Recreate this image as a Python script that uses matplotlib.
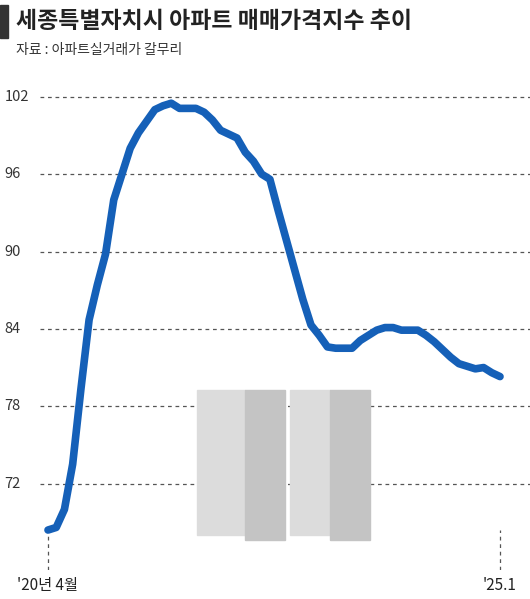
import matplotlib.pyplot as plt
from matplotlib.patches import Rectangle

plt.rcParams['font.family'] = ['Noto Sans CJK KR', 'DejaVu Sans']

# 월별 매매가격지수 ('20년 4월 ~ '25.1), 그림에서 읽은 값
values = [68.4, 68.6, 70.0, 73.5, 79.3, 84.7, 87.4, 89.8, 94.0, 96.0, 98.0, 99.2,
          100.1, 101.0, 101.3, 101.5, 101.1, 101.1, 101.1, 100.8, 100.2, 99.4, 99.1,
          98.8, 97.7, 97.0, 96.0, 95.6, 93.2, 90.9, 88.6, 86.3, 84.3, 83.5, 82.6,
          82.5, 82.5, 82.5, 83.1, 83.5, 83.9, 84.1, 84.1, 83.9, 83.9, 83.9, 83.5,
          83.0, 82.4, 81.8, 81.3, 81.1, 80.9, 81.0, 80.6, 80.3]
yticks = [72, 78, 84, 90, 96, 102]
x_labels = ["'20년 4월", "'25.1"]

n = len(values)
W, H = 530, 599
fig = plt.figure(figsize=(W / 100, H / 100), dpi=100)
ax = fig.add_axes([40 / W, 1 - 570 / H, 490 / W, 490 / H])

x0 = -8 / 8.22
x1 = (n - 1) + 30 / 8.22
ax.set_xlim(x0, x1)
ax.set_ylim(65.3, 103.3)

for t in yticks:
    ax.axhline(t, color='#555555', lw=0.9, ls=(0, (3, 3)), zorder=1)
    ax.text(-0.072, t, str(t), transform=ax.get_yaxis_transform(),
            ha='left', va='center', fontsize=10.5, color='#333333')

# 간단한 아파트 그림
for bx in [(197, 245), (290, 330)]:
    fig.patches.append(Rectangle((bx[0] / W, 1 - 535 / H), (bx[1] - bx[0]) / W, 145 / H,
                                 transform=fig.transFigure, color='#dcdcdc', zorder=0))
    fig.patches.append(Rectangle((bx[1] / W, 1 - 540 / H), 40 / W, 150 / H,
                                 transform=fig.transFigure, color='#c4c4c4', zorder=0))

ax.plot(range(n), values, color='#1560b8', lw=5.5, solid_capstyle='round', zorder=3)

for xi in [0, n - 1]:
    ax.axvline(xi, ymin=0, ymax=(68.4 - 65.3) / 38, color='#555555', lw=0.9,
               ls=(0, (3, 3)))
ax.text(0, -0.015, x_labels[0], transform=ax.get_xaxis_transform(),
        ha='center', va='top', fontsize=11, color='#222222')
ax.text(n - 1, -0.015, x_labels[1], transform=ax.get_xaxis_transform(),
        ha='center', va='top', fontsize=11, color='#222222')

for s in ax.spines.values():
    s.set_visible(False)
ax.set_xticks([])
ax.set_yticks([])

fig.patches.append(Rectangle((0, 1 - 38 / H), 8 / W, 33 / H,
                             transform=fig.transFigure, color='#333333'))
fig.text(16 / W, 1 - 21 / H, '세종특별자치시 아파트 매매가격지수 추이', fontsize=16.5,
         fontweight='bold', va='center', ha='left', color='#222222')
fig.text(16 / W, 1 - 50 / H, '자료 : 아파트실거래가 갈무리', fontsize=10,
         va='center', ha='left', color='#333333')

fig.savefig('out.png', dpi=100)
